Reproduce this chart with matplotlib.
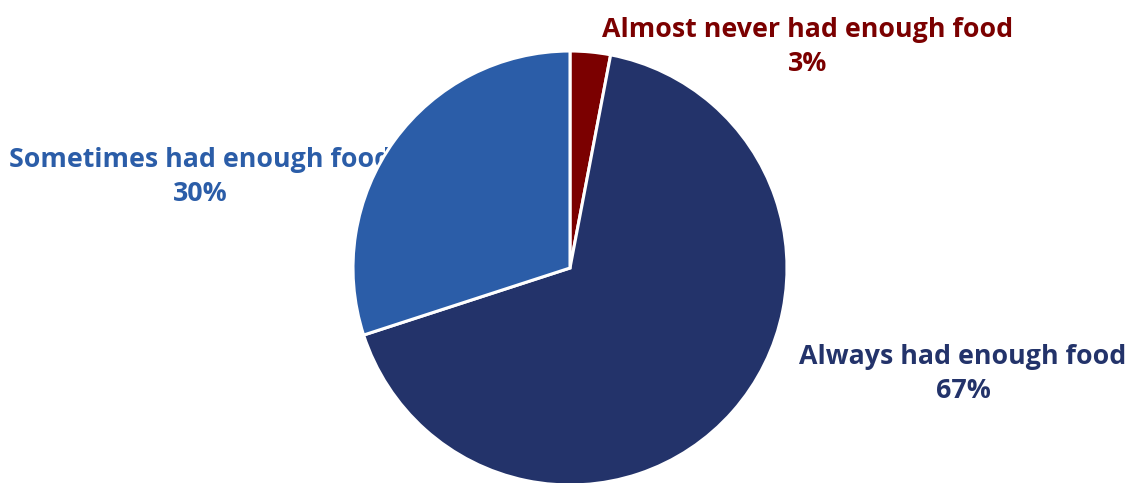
import matplotlib
matplotlib.use("Agg")
import matplotlib.pyplot as plt

labels = ["Almost never had enough food", "Always had enough food", "Sometimes had enough food"]
shares = [3, 67, 30]
colors = ["#7B0000", "#23336A", "#2B5DA8"]

# label anchor points (pixel coords, y measured from top)
label_pos = [(808, 47), (963, 374), (200, 177)]

W, H = 1130, 483
fig = plt.figure(figsize=(W / 100, H / 100), dpi=100)
ax = fig.add_axes([0, 0, 1, 1])

cx, cy, r = 570, H - 268, 217
ax.pie(shares, colors=colors, startangle=90, counterclock=False,
       center=(cx, cy), radius=r, frame=True,
       wedgeprops=dict(edgecolor="white", linewidth=2.2, zorder=3))
ax.set_xlim(0, W)
ax.set_ylim(0, H)
ax.set_aspect("equal")
ax.axis("off")

for lab, val, col, (px, py) in zip(labels, shares, colors, label_pos):
    ax.text(px, H - py, f"{lab}\n{val}%", color=col, ha="center", va="center",
            fontsize=19.3, fontweight="bold", family="Open Sans",
            linespacing=1.38, zorder=1)

fig.savefig("out.png", dpi=100)
